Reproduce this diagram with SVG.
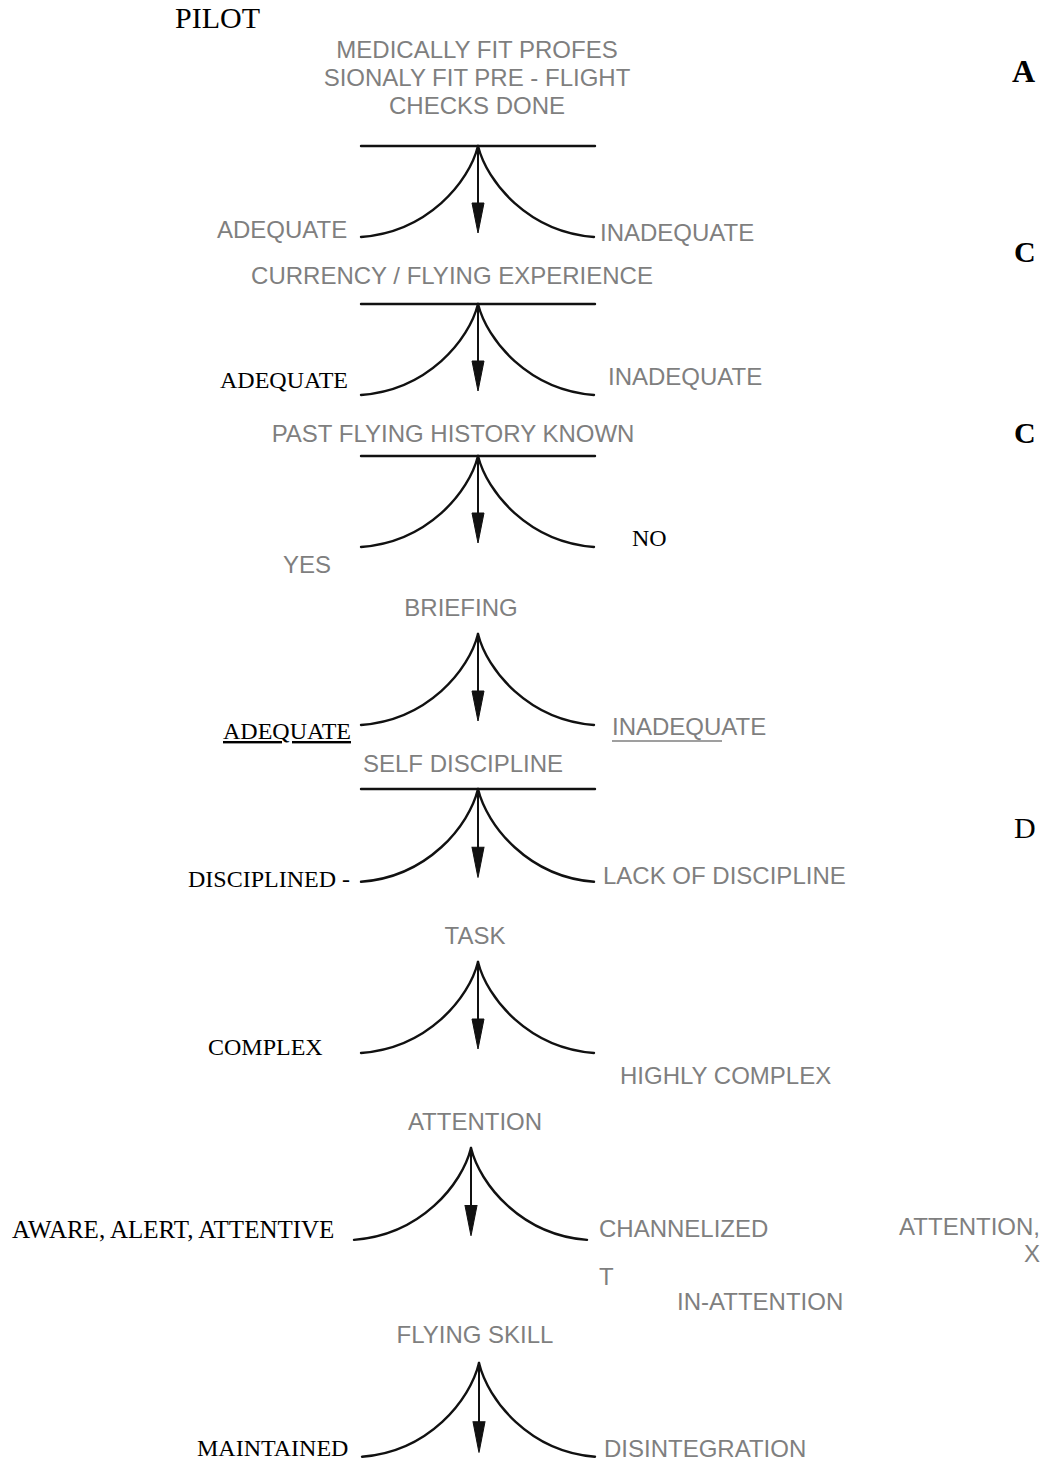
<svg xmlns="http://www.w3.org/2000/svg" xmlns:xlink="http://www.w3.org/1999/xlink" width="1062" height="1460" viewBox="0 0 1062 1460">
<style>
.g{font-family:"Liberation Sans",Arial,sans-serif;font-size:24px;fill:#7f7f7f}
.s{font-family:"Liberation Serif","Times New Roman",serif;font-size:24px;fill:#000}
.c{text-anchor:middle}
.m{font-family:"Liberation Serif","Times New Roman",serif;font-size:30px;fill:#000}
.ln{fill:none;stroke:#111;stroke-width:2.4;stroke-linecap:round}
.ar{fill:#111;stroke:#111;stroke-width:1}
</style>
<defs>
<g id="cusp">
<path class="ln" d="M0,0 C-9,36 -50,86 -117,91"/>
<path class="ln" d="M0,0 C9,36 50,86 116,91"/>
<path class="ln" d="M0,0 V66" style="stroke-width:2"/>
<path class="ar" d="M-6,57 L6,57 L0,87 Z"/>
</g>
<path id="topline" class="ln" d="M-117,0 H117"/>
</defs>
<rect width="1062" height="1460" fill="#fff"/>

<g id="header">
<text class="m" x="175" y="28">PILOT</text>
<text class="g c" x="477" y="58">MEDICALLY FIT PROFES</text>
<text class="g c" x="477" y="86">SIONALY FIT PRE - FLIGHT</text>
<text class="g c" x="477" y="114">CHECKS DONE</text>
</g>
<g id="grades">
<text class="m" x="1012" y="82" style="font-weight:bold;font-size:32px">A</text>
<text class="m" x="1014" y="262" style="font-weight:bold;font-size:30px">C</text>
<text class="m" x="1014" y="443" style="font-weight:bold;font-size:30px">C</text>
<text class="m" x="1014" y="838" style="font-size:30px">D</text>
</g>

<g id="connectors">
<g id="fig1" transform="translate(478,146)"><use xlink:href="#topline"/><use xlink:href="#cusp"/></g>
<g id="fig2" transform="translate(478,304)"><use xlink:href="#topline"/><use xlink:href="#cusp"/></g>
<g id="fig3" transform="translate(478,456)"><use xlink:href="#topline"/><use xlink:href="#cusp"/></g>
<g id="fig4" transform="translate(478,634)"><use xlink:href="#cusp"/></g>
<g id="fig5" transform="translate(478,789)"><use xlink:href="#topline"/><use xlink:href="#cusp" transform="scale(1,1.02)"/></g>
<g id="fig6" transform="translate(478,962)"><use xlink:href="#cusp"/></g>
<g id="fig7" transform="translate(471,1148)"><use xlink:href="#cusp" transform="scale(1,1.01)"/></g>
<g id="fig8" transform="translate(479,1363)"><use xlink:href="#cusp" transform="scale(1,1.03)"/></g>
</g>

<g id="node1">
<text class="g" x="217" y="238">ADEQUATE</text>
<text class="g" x="600" y="241">INADEQUATE</text>
</g>
<g id="node2">
<text class="g c" x="452" y="284">CURRENCY / FLYING EXPERIENCE</text>
<text class="s" x="220" y="388">ADEQUATE</text>
<text class="g" x="608" y="385">INADEQUATE</text>
</g>
<g id="node3">
<text class="g c" x="453" y="442">PAST FLYING HISTORY KNOWN</text>
<text class="g" x="283" y="573">YES</text>
<text class="s" x="632" y="546">NO</text>
</g>
<g id="node4">
<text class="g c" x="461" y="616">BRIEFING</text>
<text class="s" x="223" y="739" text-decoration="underline">ADEQUATE</text>
<text class="g" x="612" y="735">INADEQUATE</text>
<line x1="612" y1="741" x2="722" y2="741" stroke="#7f7f7f" stroke-width="1.5"/>
</g>
<g id="node5">
<text class="g c" x="463" y="772">SELF DISCIPLINE</text>
<text class="s" x="188" y="887">DISCIPLINED -</text>
<text class="g" x="603" y="884">LACK OF DISCIPLINE</text>
</g>
<g id="node6">
<text class="g c" x="475" y="944">TASK</text>
<text class="s" x="208" y="1055">COMPLEX</text>
<text class="g" x="620" y="1084">HIGHLY COMPLEX</text>
</g>
<g id="node7">
<text class="g c" x="475" y="1130">ATTENTION</text>
<text class="s" x="12" y="1238" style="font-size:25px">AWARE, ALERT, ATTENTIVE</text>
<text class="g" x="599" y="1237">CHANNELIZED</text>
<text class="g" x="1040" y="1235" text-anchor="end">ATTENTION,</text>
<text class="g" x="1040" y="1262" text-anchor="end">X</text>
<text class="g" x="599" y="1285">T</text>
<text class="g" x="677" y="1310">IN-ATTENTION</text>
</g>
<g id="node8">
<text class="g c" x="475" y="1343">FLYING SKILL</text>
<text class="s" x="197" y="1456">MAINTAINED</text>
<text class="g" x="604" y="1457">DISINTEGRATION</text>
</g>
</svg>
